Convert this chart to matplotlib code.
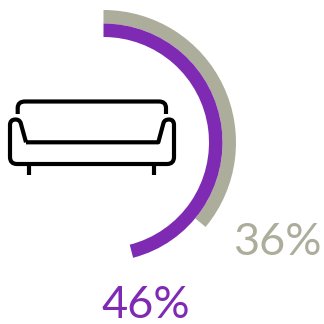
import matplotlib
matplotlib.use("Agg")
import matplotlib.pyplot as plt
from matplotlib.patches import PathPatch
from matplotlib.path import Path

labels = ["46%", "36%"]
purple_share = [46, 54]
grey_share = [36, 64]

PURPLE = "#7f2ab3"
GREY = "#adad9c"
H = 324

fig = plt.figure(figsize=(3.24, 3.24), dpi=100)
ax = fig.add_axes([0, 0, 1, 1])

# two single-value rings, the rest of each ring stays empty
cx, cy = 103.5, H - 142.5
for share, color, r in [(grey_share, GREY, 132.5), (purple_share, PURPLE, 119)]:
    wedges, _ = ax.pie(share, radius=r, center=(cx, cy), startangle=90, counterclock=False,
                       colors=[color, "none"], wedgeprops={"width": 13.5, "linewidth": 0})

ax.set_xlim(0, H)
ax.set_ylim(0, H)
ax.set_aspect("equal")
ax.axis("off")

ax.text(145.3, H - 318, labels[0], color=PURPLE, fontsize=32.5, family="Lato",
        ha="center", va="baseline")
ax.text(277.5, H - 255, labels[1], color=GREY, fontsize=32.5, family="Lato",
        ha="center", va="baseline")

# sofa icon
def sofa_line(points, codes):
    verts = [(x, H - y) for x, y in points]
    ax.add_patch(PathPatch(Path(verts, codes), fill=False, edgecolor="black", lw=3.0,
                           capstyle="butt", joinstyle="round"))

M, L, C = Path.MOVETO, Path.LINETO, Path.CURVE3
sofa_line([(17.7, 114), (17.7, 108), (17.7, 101.5), (25, 101.5), (159, 101.5), (166, 101.5), (166, 108), (166, 114)],
          [M, L, C, C, L, C, C, L])
sofa_line([(26, 142.3), (158.3, 142.3), (163.5, 123), (164.5, 119.5), (169, 119.5), (174, 119.5), (174, 125),
           (174, 157), (174, 164), (167, 164), (17, 164), (10, 164), (10, 157), (10, 125), (10, 119.5),
           (15.5, 119.5), (19.5, 119.5), (20.7, 123), (26, 142.3)],
          [M, L, L, C, C, C, C, L, C, C, L, C, C, L, C, C, C, C, L])
sofa_line([(29.3, 164), (29.3, 175)], [M, L])
sofa_line([(154.3, 164), (154.3, 175)], [M, L])

fig.savefig("out.png", dpi=100)
